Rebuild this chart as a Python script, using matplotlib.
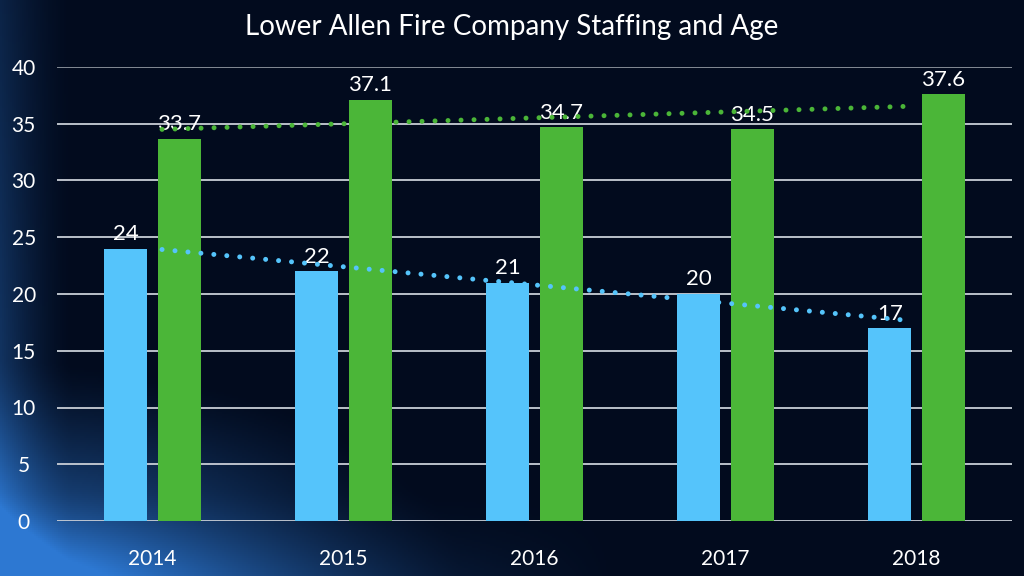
import numpy as np
import matplotlib
matplotlib.use("Agg")
import matplotlib.pyplot as plt

years = ["2014", "2015", "2016", "2017", "2018"]
staffing = [24, 22, 21, 20, 17]
age = [33.7, 37.1, 34.7, 34.5, 37.6]
yticks = [0, 5, 10, 15, 20, 25, 30, 35, 40]
title = "Lower Allen Fire Company Staffing and Age"

BLUE = "#55C4FB"
GREEN = "#4BB638"
FONT = ["Lato", "DejaVu Sans"]

fig = plt.figure(figsize=(10.24, 5.76), dpi=100)

# background
bg = fig.add_axes([0, 0, 1, 1])
H, W = 288, 512
yy, xx = np.mgrid[0:H, 0:W]
xn = xx / W
yn = 1 - yy / H  # 0 bottom
base = np.array([2, 11, 30]) / 255.0
glow = np.array([45, 120, 210]) / 255.0
d = np.sqrt((xn * 1.0) ** 2 + (yn * 1.2) ** 2)
g1 = np.clip(1 - d / 0.45, 0, 1) ** 1.3
g2 = np.clip(1 - xn / 0.07, 0, 1) ** 1.5 * 0.45 * (1 - yn * 0.5)
g3 = np.clip(1 - yn / 0.15, 0, 1) ** 1.5 * np.clip(1 - xn / 0.6, 0, 1) * 0.45
g = np.clip(g1 * 0.9 + g2 + g3, 0, 1)
img = base[None, None, :] * (1 - g[..., None]) + glow[None, None, :] * g[..., None]
bg.imshow(img, extent=[0, 1, 0, 1], aspect="auto", origin="upper")
bg.axis("off")

ax = fig.add_axes([57 / 1024, 1 - 521 / 576, (1012 - 57) / 1024, (521 - 67) / 576])
ax.patch.set_alpha(0)
x = np.arange(len(years))
w = 0.225
off = 0.14
ax.bar(x - off, staffing, w, color=BLUE, zorder=2)
ax.bar(x + off, age, w, color=GREEN, zorder=2)

for xi, v in zip(x - off, staffing):
    ax.text(xi, v + 0.4, f"{v:g}", ha="center", va="bottom", color="white",
            fontsize=16, family=FONT, zorder=3)
for xi, v in zip(x + off, age):
    ax.text(xi, v + 0.4, f"{v:g}", ha="center", va="bottom", color="white",
            fontsize=16, family=FONT, zorder=3)

# linear trendlines
for vals, col in ((staffing, BLUE), (age, GREEN)):
    p = np.polyfit(x, vals, 1)
    xt = np.linspace(x[0] + 0.05, x[-1] - 0.05, 50)
    ax.plot(xt, np.polyval(p, xt), color=col, lw=3.6,
            linestyle=(0, (0.001, 2.6)), dash_capstyle="round", zorder=4)

ax.set_xlim(-0.5, len(years) - 0.5)
ax.set_ylim(0, 40)
ax.set_yticks(yticks)
ax.set_yticklabels([str(t) for t in yticks])
ax.set_xticks(x)
ax.set_xticklabels(years)
for yt in yticks:
    ax.axhline(yt, color="#8E959E" if yt == 40 else "#C9CED6", lw=1.3, zorder=1)
for s in ax.spines.values():
    s.set_visible(False)
ax.tick_params(length=0, colors="white")
ax.tick_params(axis="y", pad=24)
ax.tick_params(axis="x", pad=20)
for lab in ax.get_yticklabels():
    lab.set_fontsize(15)
    lab.set_family(FONT)
    lab.set_horizontalalignment("center")
for lab in ax.get_xticklabels():
    lab.set_fontsize(15)
    lab.set_family(FONT)

fig.text(512 / 1024, 1 - 27 / 576, title, ha="center", va="center",
         color="white", fontsize=20, family=FONT)

fig.savefig("out.png", dpi=100)
